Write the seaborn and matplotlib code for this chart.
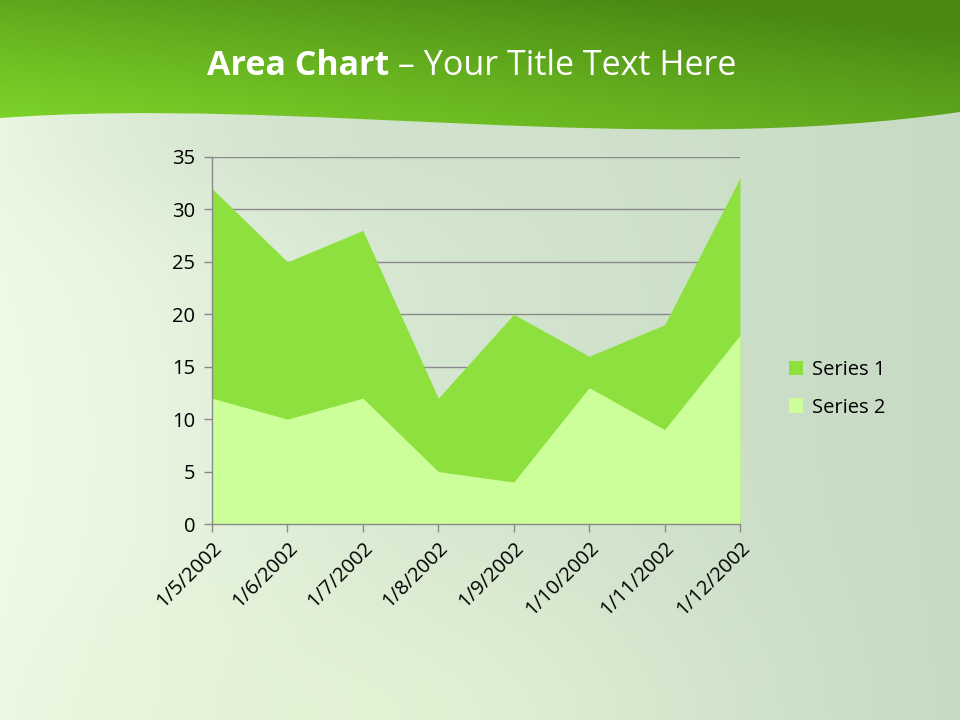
import matplotlib
matplotlib.use("Agg")
import matplotlib.pyplot as plt
import numpy as np
import pandas as pd
import seaborn as sns
from matplotlib.path import Path
from matplotlib.patches import PathPatch, Patch

DATES = ["1/5/2002", "1/6/2002", "1/7/2002", "1/8/2002",
         "1/9/2002", "1/10/2002", "1/11/2002", "1/12/2002"]
SERIES_1 = [32, 25, 28, 12, 20, 16, 19, 33]
SERIES_2 = [12, 10, 12, 5, 4, 13, 9, 18]
SERIES_NAMES = ["Series 1", "Series 2"]
Y_TICKS = [0, 5, 10, 15, 20, 25, 30, 35]

COLORS = {"Series 1": "#8ee03e", "Series 2": "#ccff99"}
W, H = 960, 720
FONT = ["Open Sans", "DejaVu Sans"]


def blend(c0, c1, t):
    c0 = np.array(matplotlib.colors.to_rgb(c0))
    c1 = np.array(matplotlib.colors.to_rgb(c1))
    return c0[None, None, :] * (1 - t[..., None]) + c1[None, None, :] * t[..., None]


def draw_background(fig):
    bg = fig.add_axes([0, 0, 1, 1], zorder=-10)
    bg.set_xlim(0, W)
    bg.set_ylim(H, 0)
    bg.axis("off")

    yy, xx = np.mgrid[0:H:2, 0:W:2].astype(float)
    # soft light-green body, bright at left, greyer at right
    t = np.clip(xx / W, 0, 1) ** 0.7
    body = blend("#eaf7e0", "#c6dac4", t)
    glow = np.exp(-(((xx - 0) / 240) ** 2 + ((yy - 440) / 380) ** 2))
    body = body * (1 - 0.6 * glow[..., None]) + np.array([0.95, 0.99, 0.92]) * 0.6 * glow[..., None]
    bottom = np.exp(-(((xx - 380) / 320) ** 2 + ((yy - 720) / 160) ** 2))
    body = body * (1 - 0.6 * bottom[..., None]) + np.array([0.91, 0.97, 0.84]) * 0.6 * bottom[..., None]
    top = np.exp(-(((xx - 330) / 260) ** 2 + ((yy - 130) / 90) ** 2))
    body = body * (1 - 0.5 * top[..., None]) + np.array([0.79, 0.86, 0.78]) * 0.5 * top[..., None]
    bg.imshow(body, extent=(0, W, H, 0), aspect="auto", zorder=0)

    # green header with a wavy lower edge
    ht = np.clip(0.6 * (xx / W) + 0.6 * (1 - yy / 135) ** 1.3, 0, 1)
    header = blend("#7fd52a", "#4a8a14", ht)
    img = bg.imshow(header, extent=(0, W, H, 0), aspect="auto", zorder=1)
    verts = [(0, 0), (0, 118), (300, 96), (640, 158), (W, 112), (W, 0), (0, 0)]
    codes = [Path.MOVETO, Path.LINETO, Path.CURVE4, Path.CURVE4, Path.CURVE4,
             Path.LINETO, Path.CLOSEPOLY]
    clip = PathPatch(Path(verts, codes), transform=bg.transData, facecolor="none", edgecolor="none")
    bg.add_patch(clip)
    img.set_clip_path(clip)


def draw_title(fig):
    renderer = fig.canvas.get_renderer()
    bold = fig.text(0, 0, "Area Chart", fontsize=24.5, fontweight="bold", color="white", family=FONT)
    rest = fig.text(0, 0, " \u2013 Your Title Text Here", fontsize=24.5, color="white", family=FONT)
    wb = bold.get_window_extent(renderer).width
    wr = rest.get_window_extent(renderer).width
    x0 = 472 - (wb + wr) / 2
    yb = 1 - 75 / H
    bold.set_position((x0 / W, yb))
    rest.set_position(((x0 + wb) / W, yb))
    bold.set_va("baseline")
    rest.set_va("baseline")


def main():
    sns.set_theme(style="white")
    plt.rcParams["font.family"] = FONT

    df = pd.DataFrame({"date": DATES, "Series 1": SERIES_1, "Series 2": SERIES_2})
    df["pos"] = np.arange(len(df))

    fig = plt.figure(figsize=(W / 100, H / 100), dpi=100)
    draw_background(fig)

    ax = fig.add_axes([212 / W, 1 - 524 / H, 528 / W, 367 / H])
    ax.set_facecolor("none")
    ax.set_axisbelow(True)
    ax.yaxis.grid(True, color="#8a8a8a", linewidth=1)

    for name in SERIES_NAMES:
        ax.fill_between(df["pos"], 0, df[name], color=COLORS[name], linewidth=0, zorder=2)

    ax.set_xlim(0, len(DATES) - 1)
    ax.set_ylim(0, 35)
    ax.set_yticks(Y_TICKS)
    ax.set_xticks(df["pos"])
    ax.set_xticklabels(DATES, rotation=45, ha="right", rotation_mode="anchor")
    ax.set_xlabel("")
    ax.set_ylabel("")
    ax.tick_params(axis="both", labelsize=14.5, colors="#8a8a8a", labelcolor="black",
                   direction="out", length=6, width=1, left=True, bottom=True)
    ax.tick_params(axis="y", pad=6)
    ax.tick_params(axis="x", pad=4)
    for side in ["top", "right"]:
        ax.spines[side].set_visible(False)
    for side in ["left", "bottom"]:
        ax.spines[side].set_color("#8a8a8a")
        ax.spines[side].set_linewidth(1)

    handles = [Patch(facecolor=COLORS[n], edgecolor="none", label=n) for n in SERIES_NAMES]
    fig.legend(handles=handles, loc="center left", bbox_to_anchor=(771 / W, 1 - 389 / H),
               frameon=False, fontsize=14.5, handlelength=0.7, handleheight=0.7,
               handletextpad=0.45, labelspacing=0.85, labelcolor="black")

    draw_title(fig)
    fig.savefig("out.png", dpi=100)
    plt.close(fig)


if __name__ == "__main__":
    main()
